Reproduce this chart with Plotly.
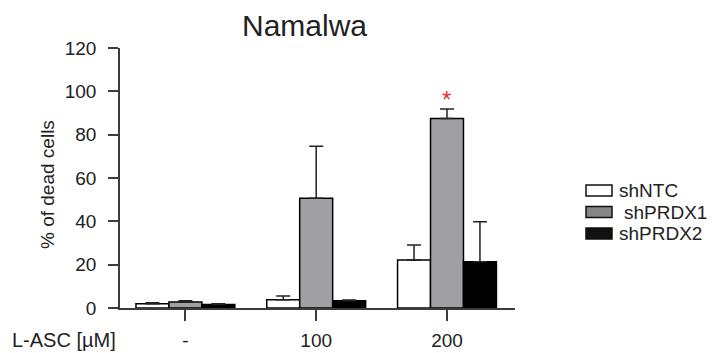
import plotly.graph_objects as go

# ---- data ----
concentrations = ["-", "100", "200"]
series_names = ["shNTC", "shPRDX1", "shPRDX2"]
shNTC = [2.0, 3.8, 22.1]
shNTC_err = [0.4, 1.7, 7.0]
shPRDX1 = [2.8, 50.7, 87.5]
shPRDX1_err = [0.5, 24.0, 4.3]
shPRDX2 = [1.6, 3.4, 21.3]
shPRDX2_err = [0.4, 0.3, 18.5]
y_ticks = [0, 20, 40, 60, 80, 100, 120]

# ---- layout constants ----
# the page body has an 8px margin, so the figure is drawn 8px in from the window's corner
OFF = 8
WIN_W, WIN_H = 716, 353
W, H = WIN_W - OFF, WIN_H - OFF
# plot area in window pixels: x 120..515, y 48..308
ML = 120 - OFF
MT = 48 - OFF
MR = W - (515 - OFF)
MB = H - (308 - OFF)
PW, PH = W - ML - MR, H - MT - MB
TXT = "#222222"
AX = "#3c3c3c"
FONT = "Liberation Sans, Arial, sans-serif"


def px(x):
    """window x pixel -> paper coordinate"""
    return (x - OFF - ML) / PW


def py(y):
    """window y pixel -> paper coordinate"""
    return (H - MB - (y - OFF)) / PH


fills = ["#ffffff", "#a0a0a4", "#000000"]
values = [shNTC, shPRDX1, shPRDX2]
errors = [shNTC_err, shPRDX1_err, shPRDX2_err]

fig = go.Figure()
for name, v, e, c in zip(series_names, values, errors, fills):
    fig.add_trace(go.Bar(
        x=concentrations, y=v, name=name,
        marker=dict(color=c, line=dict(color="#000000", width=1.5)),
        error_y=dict(type="data", symmetric=False, array=e,
                     arrayminus=[0] * len(e), color="#222222",
                     thickness=1.5, width=7),
        showlegend=False,
    ))

fig.update_layout(
    width=W, height=H,
    margin=dict(l=ML, r=MR, t=MT, b=MB, pad=0, autoexpand=False),
    paper_bgcolor="white", plot_bgcolor="white",
    barmode="group", bargap=0.244, bargroupgap=0,
    font=dict(family=FONT, color=TXT, size=19),
    xaxis=dict(
        type="category", range=[-0.5, 2.52], automargin=False,
        showline=True, linecolor=AX, linewidth=1.5,
        ticks="outside", ticklen=11, tickwidth=1.5, tickcolor=AX,
        ticklabelstandoff=3,
        showgrid=False, zeroline=False,
        tickfont=dict(size=19, color=TXT),
    ),
    yaxis=dict(
        range=[0, 120], tickvals=y_ticks, automargin=False,
        showline=True, linecolor=AX, linewidth=1.5,
        ticks="outside", ticklen=10, tickwidth=1.5, tickcolor=AX,
        ticklabelstandoff=8,
        showgrid=False, zeroline=False,
        tickfont=dict(size=19, color=TXT),
    ),
    showlegend=False,
)

annotations = [
    dict(text="Namalwa", x=px(304), y=py(25), xref="paper", yref="paper",
         xanchor="center", yanchor="middle", showarrow=False,
         font=dict(size=30, color=TXT)),
    dict(text="% of dead cells", x=px(47), y=py(185), xref="paper", yref="paper",
         xanchor="center", yanchor="middle", showarrow=False, textangle=-90,
         font=dict(size=19, color=TXT)),
    dict(text="L-ASC [µM]", x=px(10), y=py(340), xref="paper", yref="paper",
         xanchor="left", yanchor="middle", showarrow=False,
         font=dict(size=20, color=TXT)),
    dict(text="*", x=concentrations.index("200"), y=shPRDX1[2] + shPRDX1_err[2],
         xref="x", yref="y",
         xanchor="center", yanchor="bottom", showarrow=False, yshift=-6,
         font=dict(size=24, color="#e8303a")),
]

# manual legend (drawn with shapes + text to match the boxed swatches)
leg_boxes = [(185, 196), (206.5, 217.5), (228, 239)]
leg_fills = ["#ffffff", "#858585", "#111111"]
leg_text_x = [617, 622, 617]
leg_text_y = [190.5, 212, 233.5]
shapes = []
for (y0, y1), c in zip(leg_boxes, leg_fills):
    shapes.append(dict(type="rect", xref="paper", yref="paper",
                       x0=px(586), x1=px(612), y0=py(y1), y1=py(y0),
                       fillcolor=c, line=dict(color="#111111", width=1.5)))
for name, tx, ty in zip(series_names, leg_text_x, leg_text_y):
    annotations.append(dict(text=name, x=px(tx), y=py(ty), xref="paper", yref="paper",
                            xanchor="left", yanchor="middle", showarrow=False,
                            font=dict(size=19, color=TXT)))

fig.update_layout(annotations=annotations, shapes=shapes)
fig.write_html("out.html")
